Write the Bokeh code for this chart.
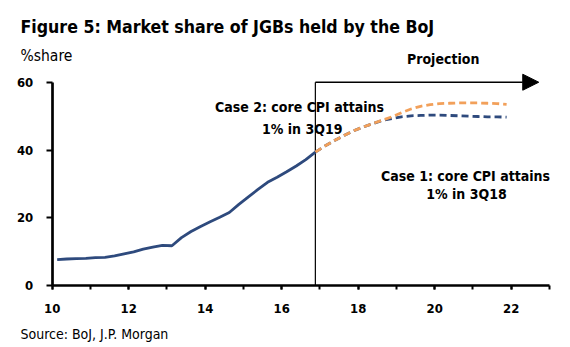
from bokeh.plotting import figure
from bokeh.models import FixedTicker, Label, Arrow, NormalHead, Range1d, LinearAxis
from bokeh.embed import file_html
from bokeh.resources import INLINE

# ---- data ----
hist_share = [7.7, 7.9, 8.0, 8.1, 8.3, 8.4, 8.8, 9.4,
              10.0, 10.8, 11.4, 11.9, 11.8, 14.2, 16.0, 17.5,
              18.9, 20.2, 21.6, 24.0, 26.2, 28.4, 30.5, 32.0,
              33.6, 35.3, 37.2, 39.4]
case1_share = [39.4, 41.2, 42.8, 44.3, 45.7, 46.8, 47.8, 48.7,
               49.3, 49.8, 50.1, 50.2, 50.3, 50.3, 50.2, 50.1,
               50.0, 49.9, 49.8, 49.8, 49.7]
case2_share = [39.4, 41.2, 42.8, 44.3, 45.7, 46.8, 47.8, 48.8,
               49.8, 51.0, 52.1, 52.9, 53.4, 53.7, 53.8, 53.9,
               53.9, 53.9, 53.8, 53.7, 53.5]
x_ticks = [10, 12, 14, 16, 18, 20, 22]
y_ticks = [0, 20, 40, 60]

# quarterly time positions (years since 2000)
first_q = 10.13
hist_x = [first_q + 0.25 * i for i in range(len(hist_share))]
proj_start = hist_x[-1]
proj_x = [proj_start + 0.25 * i for i in range(len(case1_share))]
proj_arrow_end = 22.72

NAVY = "#2E4A7D"
ORANGE = "#F2A05A"
FONT = "DejaVu Sans Condensed, DejaVu Sans, sans-serif"

W, H = 570, 347
# pixel geometry of the axes in the canvas
X0_PX, PX_PER_YEAR = 51.7, 38.25
Y0_PX, PX_PER_UNIT = 285.3, 3.393

def dx(px):
    return 10 + (px - X0_PX) / PX_PER_YEAR

def dy(py):
    return (Y0_PX - py) / PX_PER_UNIT

p = figure(width=W, height=H, output_backend="svg", toolbar_location=None,
           x_range=Range1d(dx(0), dx(W)), y_range=Range1d(dy(H), dy(0)),
           x_axis_location=None, y_axis_location=None,
           min_border=0)
p.outline_line_color = None
p.xgrid.visible = False
p.ygrid.visible = False
p.background_fill_color = "white"
p.border_fill_color = "white"

xax = LinearAxis(fixed_location=0, bounds=(10, 23),
                 ticker=FixedTicker(ticks=x_ticks, minor_ticks=list(range(10, 24))))
yax = LinearAxis(fixed_location=10, bounds=(0, 60),
                 ticker=FixedTicker(ticks=y_ticks, minor_ticks=[]))
for ax in (xax, yax):
    ax.axis_line_width = 2.7
    ax.axis_line_color = "black"
    ax.major_tick_line_color = "black"
    ax.major_tick_line_width = 2
    ax.minor_tick_line_color = "black"
    ax.minor_tick_line_width = 2
    ax.major_label_text_font = FONT
    ax.major_label_text_font_style = "bold"
    ax.major_label_text_font_size = "13px"
    ax.major_label_text_color = "black"
xax.major_tick_in = 0
xax.major_tick_out = 4
xax.minor_tick_in = 0
xax.minor_tick_out = 4
xax.major_label_standoff = 14
yax.major_tick_in = 0
yax.major_tick_out = 6
yax.minor_tick_in = 0
yax.minor_tick_out = 0
yax.major_label_standoff = 13
p.add_layout(xax, "below")
p.add_layout(yax, "left")

# projection divider and arrow
p.segment(x0=[proj_start], y0=[0], x1=[proj_start], y1=[60], line_color="black", line_width=1.2)
p.add_layout(Arrow(x_start=proj_start, y_start=60, x_end=proj_arrow_end, y_end=60,
                   line_color="black", line_width=1.5,
                   end=NormalHead(size=16, fill_color="black", line_color="black")))

# lines
p.line(proj_x, case1_share, line_color=NAVY, line_width=2.8, line_dash="7 4")
p.line(proj_x, case2_share, line_color=ORANGE, line_width=2.8, line_dash="7 4")
p.line(hist_x, hist_share, line_color=NAVY, line_width=2.8)

def add_text(txt, px, py, size, bold=True, align="left"):
    p.add_layout(Label(x=dx(px), y=dy(py), text=txt, text_font=FONT, text_font_size=size,
                       text_font_style="bold" if bold else "normal",
                       text_align=align, text_baseline="alphabetic",
                       text_color="black"))

add_text("Figure 5: Market share of JGBs held by the BoJ", 20, 26.7, "17.6px")
add_text("%share", 20, 55, "15.5px", bold=False)
add_text("Projection", 442.7, 58.3, "14px", align="center")
add_text("Case 2: core CPI attains", 299, 106.7, "14px", align="center")
add_text("1% in 3Q19", 301.7, 128.3, "14px", align="center")
add_text("Case 1: core CPI attains", 465, 175, "14px", align="center")
add_text("1% in 3Q18", 466, 193.3, "14px", align="center")
add_text("Source: BoJ, J.P. Morgan", 20, 333.3, "14px", bold=False)

open("out.html", "w").write(file_html(p, INLINE))
